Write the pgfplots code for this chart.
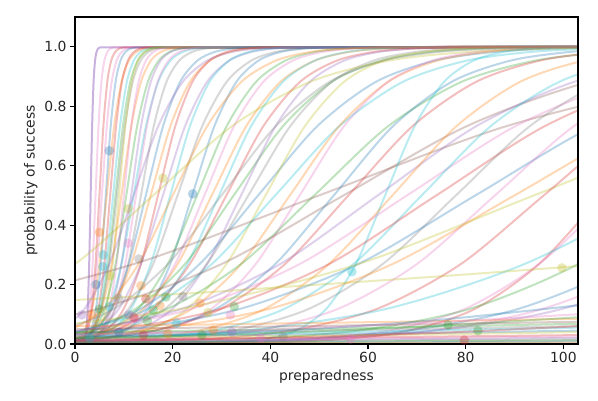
\documentclass[border=0pt]{standalone}
\usepackage{fontspec}
\setmainfont{DejaVu Sans}
\usepackage{pgfplots}
\usepackage{pgfplotstable}
\pgfplotsset{compat=1.18}
\definecolor{cB}{HTML}{1F77B4}
\definecolor{cO}{HTML}{FF7F0E}
\definecolor{cG}{HTML}{2CA02C}
\definecolor{cR}{HTML}{D62728}
\definecolor{cP}{HTML}{9467BD}
\definecolor{cBr}{HTML}{8C564B}
\definecolor{cPk}{HTML}{E377C2}
\definecolor{cGy}{HTML}{7F7F7F}
\definecolor{cOl}{HTML}{BCBD22}
\definecolor{cC}{HTML}{17BECF}
\pgfplotstableread{
name x0 x1 x2 x3 x4 x5 x6 x7 x8 x9 x10 x11 x12 x13 x14
p 0 0.0025 0.0067 0.018 0.0474 0.1192 0.2689 0.5 0.7311 0.8808 0.9526 0.982 0.9933 0.9975 1
a1 -5 1.4 1.7 2.0 2.3 2.6 2.9 3.2 3.5 3.8 4.1 4.4 4.7 5.0 110
a2 -5 0.6 1.2 1.8 2.4 3.0 3.6 4.2 4.8 5.4 6.0 6.6 7.2 7.8 110
a3 -5 0.2 1.0 1.8 2.6 3.4 4.2 5.0 5.8 6.6 7.4 8.2 9.0 9.8 110
a4 -5 -0.5 0.5 1.5 2.5 3.5 4.5 5.5 6.5 7.5 8.5 9.5 10.5 11.5 110
a5 -5 0.3 1.3 2.3 3.3 4.3 5.3 6.3 7.3 8.3 9.3 10.3 11.3 12.3 110
a6 -8.5 -2.5 -1.0 0.5 2.0 3.5 5.0 6.5 8.0 9.5 11.0 12.5 14.0 15.5 110
a7 -5 0.0 1.2 2.4 3.6 4.8 6.0 7.2 8.4 9.6 10.8 12.0 13.2 14.4 110
a8 -6.2 -0.6 0.8 2.2 3.6 5.0 6.4 7.8 9.2 10.6 12.0 13.4 14.8 16.2 110
a9 -6.7 -0.7 0.8 2.3 3.8 5.3 6.8 8.3 9.8 11.3 12.8 14.3 15.8 17.3 110
a10 -7.4 -1.0 0.6 2.2 3.8 5.4 7.0 8.6 10.2 11.8 13.4 15.0 16.6 18.2 110
a11 -5 1.2 2.5 3.8 5.1 6.4 7.7 9.0 10.3 11.6 12.9 14.2 15.5 16.8 110
a12 -10.5 -2.5 -0.5 1.5 3.5 5.5 7.5 9.5 11.5 13.5 15.5 17.5 19.5 21.5 110
a13 -5 1.0 2.5 4.0 5.5 7.0 8.5 10.0 11.5 13.0 14.5 16.0 17.5 19.0 110
a14 -11.5 -2.7 -0.5 1.7 3.9 6.1 8.3 10.5 12.7 14.9 17.1 19.3 21.5 23.7 110
a15 -8.5 -0.5 1.5 3.5 5.5 7.5 9.5 11.5 13.5 15.5 17.5 19.5 21.5 23.5 110
a16 -13 -3.0 -0.5 2.0 4.5 7.0 9.5 12.0 14.5 17.0 19.5 22.0 24.5 27.0 110
a17 -9.5 -0.7 1.5 3.7 5.9 8.1 10.3 12.5 14.7 16.9 19.1 21.3 23.5 25.7 110
a18 -12.5 -2.1 0.5 3.1 5.7 8.3 10.9 13.5 16.1 18.7 21.3 23.9 26.5 29.1 110
b1 -20.5 -6.5 -3 0.5 4 7.5 11 14.5 18 21.5 25 28.5 32 35.5 110
b2 -24.5 -8.5 -4.5 -0.5 3.5 7.5 11.5 15.5 19.5 23.5 27.5 31.5 35.5 39.5 110
b3 -18 -4 -0.5 3 6.5 10 13.5 17 20.5 24 27.5 31 34.5 38 110
b4 -27 -9 -4.5 0 4.5 9 13.5 18 22.5 27 31.5 36 40.5 45 110
b5 -20.5 -4.5 -0.5 3.5 7.5 11.5 15.5 19.5 23.5 27.5 31.5 35.5 39.5 43.5 110
b6 -29 -9 -4 1 6 11 16 21 26 31 36 41 46 51 110
b7 -21 -3 1.5 6 10.5 15 19.5 24 28.5 33 37.5 42 46.5 51 110
b8 -35 -11 -5 1 7 13 19 25 31 37 43 49 55 61 110
b9 -33.5 -9.5 -3.5 2.5 8.5 14.5 20.5 26.5 32.5 38.5 44.5 50.5 56.5 62.5 110
b10 -42 -14 -7 0 7 14 21 28 35 42 49 56 63 70 110
b11 -35.5 -9.5 -3 3.5 10 16.5 23 29.5 36 42.5 49 55.5 62 68.5 110
b12 -44 -14 -6.5 1 8.5 16 23.5 31 38.5 46 53.5 61 68.5 76 110
b13 -67.5 -27.5 -17.5 -7.5 2.5 12.5 22.5 32.5 42.5 52.5 62.5 72.5 82.5 92.5 132.5
b14 -36 -8 -1 6 13 20 27 34 41 48 55 62 69 76 110
b15 -49.5 -15.5 -7 1.5 10 18.5 27 35.5 44 52.5 61 69.5 78 86.5 120.5
b16 -82.5 -34.5 -22.5 -10.5 1.5 13.5 25.5 37.5 49.5 61.5 73.5 85.5 97.5 109.5 157.5
b17 -41 -9 -1 7 15 23 31 39 47 55 63 71 79 87 119
b18 -89 -37 -24 -11 2 15 28 41 54 67 80 93 106 119 171
b19 -56 -16 -6 4 14 24 34 44 54 64 74 84 94 104 144
b20 -44 -8 1 10 19 28 37 46 55 64 73 82 91 100 136
b21 -101 -41 -26 -11 4 19 34 49 64 79 94 109 124 139 199
b22 -330 -178 -140 -102 -64 -26 12 50 88 126 164 202 240 278 430
b23 -144 -80 -64 -48 -32 -16 0 16 32 48 64 80 96 112 176
b24 -195 -95 -70 -45 -20 5 30 55 80 105 130 155 180 205 305
c1 -67 -19 -7 5 17 29 41 53 65 77 89 101 113 125 173
c2 -74 -22 -9 4 17 30 43 56 69 82 95 108 121 134 186
c3 -5 27.5 33.5 39.5 45.5 51.5 57.5 63.5 69.5 75.5 81.5 87.5 93.5 99.5 123.5
c4 -138 -58 -38 -18 2 22 42 62 82 102 122 142 162 182 262
c5 -65 -13 0 13 26 39 52 65 78 91 104 117 130 143 195
c6 -152 -64 -42 -20 2 24 46 68 90 112 134 156 178 200 288
c7 -69 -13 1 15 29 43 57 71 85 99 113 127 141 155 211
c8 -146 -58 -36 -14 8 30 52 74 96 118 140 162 184 206 294
c9 -72 -12 3 18 33 48 63 78 93 108 123 138 153 168 228
c10 -158 -62 -38 -14 10 34 58 82 106 130 154 178 202 226 322
c11 -74 -10 6 22 38 54 70 86 102 118 134 150 166 182 246
c12 -160 -60 -35 -10 15 40 65 90 115 140 165 190 215 240 340
c13 -266 -122 -86 -50 -14 22 58 94 130 166 202 238 274 310 454
c14 -74 -6 11 28 45 62 79 96 113 130 147 164 181 198 266
d1 -22 30 43 56 69 82 95 108 121 134 147 160 173 186 238
d2 -40 20 35 50 65 80 95 110 125 140 155 170 185 200 260
d3 -160 -48 -20 8 36 64 92 120 148 176 204 232 260 288 400
d4 -95 -7 15 37 59 81 103 125 147 169 191 213 235 257 345
d5 -85 3 25 47 69 91 113 135 157 179 201 223 245 267 355
d6 -80 8 30 52 74 96 118 140 162 184 206 228 250 272 360
d7 -100 0 25 50 75 100 125 150 175 200 225 250 275 300 400
e1 -38 -18 -13 -8 -3 2 7 12 17 22 27 32 37 42 110
e2 -50 -22 -15 -8 -1 6 13 20 27 34 41 48 55 62 110
e3 -80 -36 -25 -14 -3 8 19 30 41 52 63 74 85 96 140
}\raw
\pgfplotstabletranspose[colnames from=name]{\curves}{\raw}
\newcommand\cv[3][0.3]{%
\addplot[draw=#3, line width=2pt, draw opacity=#1, skip coords between index={2}{15}] table[x=#2,y=p]{\curves};
\addplot[draw=#3, line width=2pt, draw opacity=#1, smooth, skip coords between index={0}{1}, skip coords between index={14}{15}] table[x=#2,y=p]{\curves};
\addplot[draw=#3, line width=2pt, draw opacity=#1, skip coords between index={0}{13}] table[x=#2,y=p]{\curves};
}
\newcommand\fl[2]{\addplot[draw=#1, line width=2pt, draw opacity=0.3, smooth] coordinates {#2};}
\newcommand\dts[2]{\addplot[only marks, mark=*, mark size=4.8pt, color=#1, mark options={draw=#1, fill=#1, draw opacity=0, fill opacity=0.32}] coordinates {#2};}
\begin{document}
\begin{tikzpicture}
\useasboundingbox (-75pt,-56pt) rectangle (523pt,344pt);
\begin{axis}[
  scale only axis, width=503pt, height=327pt,
  at={(0pt,0pt)}, anchor=south west,
  xmin=0, xmax=103, ymin=0, ymax=1.1,
  xtick={0,20,40,60,80,100},
  ytick={0,0.2,0.4,0.6,0.8,1.0},
  yticklabel style={/pgf/number format/.cd, fixed, zerofill, precision=1},
  /pgf/number format/assume math mode=true,
  tick align=outside, major tick length=4.9pt,
  xtick pos=bottom, ytick pos=left,
  every tick/.style={black, line width=1.1pt},
  axis line style={black, line width=1.1pt},
  axis on top,
  ticklabel style={font=\fontsize{13.9}{16.7}\selectfont, text=black!85},
  label style={font=\fontsize{13.9}{16.7}\selectfont, text=black!85},
  xlabel={preparedness},
  ylabel={probability of success},
]
\cv[0.5]{a1}{cP}\cv{a2}{cPk}\cv{a3}{cR}\cv{a4}{cPk}\cv{a5}{cB}\cv{a6}{cO}
\cv{a7}{cR}\cv{a8}{cC}\cv{a9}{cG}\cv{a10}{cGy}\cv{a11}{cOl}\cv{a12}{cO}
\cv{a13}{cPk}\cv{a14}{cG}\cv{a15}{cP}\cv{a16}{cC}\cv{a17}{cPk}\cv{a18}{cGy}
\cv{b1}{cB}\cv{b2}{cO}\cv{b3}{cR}\cv{b4}{cP}\cv{b5}{cC}\cv{b6}{cGy}
\cv{b7}{cB}\cv{b8}{cG}\cv{b9}{cPk}\cv{b10}{cO}\cv{b11}{cC}\cv{b12}{cR}
\cv{b13}{cG}\cv{b14}{cP}\cv{b15}{cGy}\cv{b16}{cB}\cv{b17}{cOl}\cv{b18}{cC}
\cv{b19}{cO}\cv{b20}{cPk}\cv{b21}{cG}\cv{b22}{cBr}\cv{b23}{cOl}\cv{b24}{cBr}
\cv{c1}{cB}\cv{c2}{cR}\cv{c3}{cC}\cv{c4}{cP}\cv{c5}{cO}\cv{c6}{cPk}
\cv{c7}{cC}\cv{c8}{cR}\cv{c9}{cGy}\cv{c10}{cB}\cv{c11}{cPk}\cv{c12}{cO}
\cv{c13}{cOl}\cv{c14}{cR}
\cv{d1}{cR}\cv{d2}{cPk}\cv{d3}{cC}\cv{d4}{cG}\cv{d5}{cB}\cv{d6}{cPk}\cv{d7}{cP}
\cv{e1}{cP}\cv{e2}{cO}\cv{e3}{cGy}
\fl{cO}{(0,0.060)(25,0.065)(50,0.071)(75,0.077)(103,0.085)}
\fl{cBr}{(0,0.050)(25,0.055)(50,0.061)(75,0.067)(103,0.075)}
\fl{cG}{(0,0.040)(25,0.045)(50,0.051)(75,0.059)(103,0.068)}
\fl{cGy}{(0,0.035)(25,0.040)(50,0.045)(75,0.052)(103,0.060)}
\fl{cC}{(0,0.030)(25,0.034)(50,0.039)(75,0.046)(103,0.055)}
\fl{cB}{(0,0.025)(25,0.029)(50,0.033)(75,0.038)(103,0.045)}
\fl{cOl}{(0,0.020)(25,0.024)(50,0.028)(75,0.033)(103,0.040)}
\fl{cR}{(0,0.015)(25,0.018)(50,0.021)(75,0.025)(103,0.030)}
\fl{cPk}{(0,0.012)(25,0.014)(50,0.017)(75,0.021)(103,0.025)}
\fl{cP}{(0,0.010)(25,0.012)(50,0.014)(75,0.017)(103,0.020)}
\fl{cGy}{(0,0.008)(25,0.009)(50,0.011)(75,0.013)(103,0.015)}
\fl{cG}{(0,0.005)(25,0.006)(50,0.008)(75,0.010)(103,0.012)}
\fl{cB}{(0,0.003)(25,0.004)(50,0.005)(75,0.006)(103,0.008)}
\fl{cO}{(0,0.002)(25,0.0025)(50,0.003)(75,0.004)(103,0.005)}
\fl{cB}{(0,0.020)(25,0.033)(50,0.052)(75,0.082)(103,0.130)}
\fl{cPk}{(0,0.030)(25,0.041)(50,0.055)(75,0.074)(103,0.100)}
\fl{cOl}{(0,0.148)(25,0.172)(50,0.200)(75,0.228)(103,0.262)}
\fl{cR}{(0,0.010)(25,0.016)(50,0.025)(75,0.038)(103,0.060)}
\fl{cG}{(0,0.020)(25,0.029)(50,0.043)(75,0.062)(103,0.090)}
\dts{cB}{(7,0.65)(24.1,0.505)(4.3,0.2)(9,0.04)}
\dts{cOl}{(18,0.558)(10.9,0.455)(7.2,0.229)(27.2,0.106)(99.7,0.256)}
\dts{cO}{(5,0.376)(13.5,0.196)(17.4,0.129)(25.6,0.138)(28.3,0.047)(3.4,0.098)(19,0.035)}
\dts{cPk}{(10.9,0.339)(12.3,0.086)(31.8,0.098)(56.4,0.017)(38,0.02)}
\dts{cC}{(5.8,0.30)(5.7,0.26)(7,0.126)(20.8,0.07)(56.7,0.243)(3,0.02)}
\dts{cGy}{(13.1,0.286)(8.9,0.154)(22.1,0.16)(42.6,0.025)}
\dts{cR}{(14.5,0.152)(79.7,0.013)(12,0.09)(14,0.03)}
\dts{cG}{(18.6,0.158)(16,0.114)(32.6,0.126)(5,0.117)(14.8,0.078)(76.4,0.064)(82.5,0.045)(26,0.03)}
\dts{cP}{(1.4,0.098)(11,0.098)(32.1,0.041)}
\end{axis}
\end{tikzpicture}
\end{document}
